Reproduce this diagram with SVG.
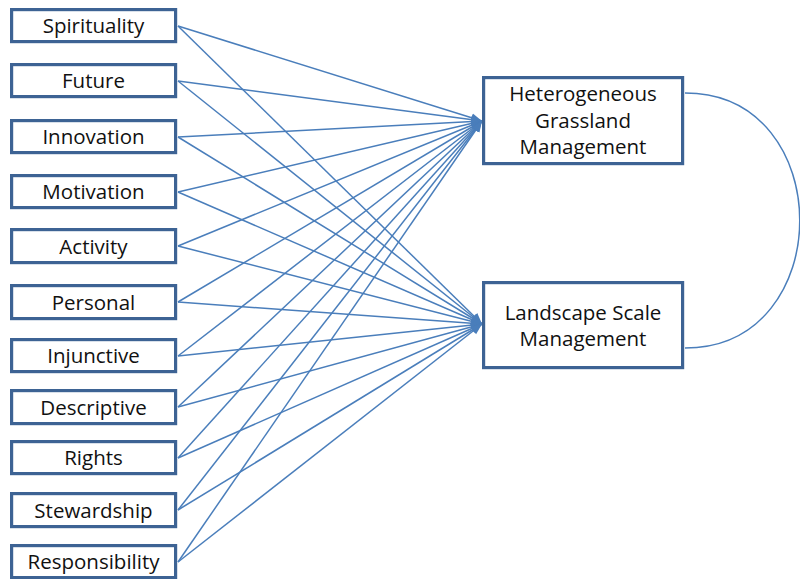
<svg xmlns="http://www.w3.org/2000/svg" width="800" height="579" viewBox="0 0 800 579">
<defs>
<marker id="arr" markerUnits="userSpaceOnUse" markerWidth="12" markerHeight="10" refX="11" refY="4.5" orient="auto" viewBox="0 0 12 9">
<path d="M0,0 L11,4.5 L0,9 Z" fill="#4a7ebb"/>
</marker>
<style>
.box{fill:#fff;stroke:#3d6394;stroke-width:3.2}
.t{font-family:"Open Sans","Liberation Sans",sans-serif;font-size:20.5px;fill:#111;text-anchor:middle}
.c line{stroke:#4a7ebb;stroke-width:1.5;marker-end:url(#arr)}
</style>
</defs>
<rect width="800" height="579" fill="#fff"/>
<g id="connectors" class="c">
<line x1="178" y1="26" x2="482" y2="121"/><line x1="178" y1="26" x2="482" y2="324"/>
<line x1="178" y1="81" x2="482" y2="121"/><line x1="178" y1="81" x2="482" y2="324"/>
<line x1="178" y1="137" x2="482" y2="121"/><line x1="178" y1="137" x2="482" y2="324"/>
<line x1="178" y1="192" x2="482" y2="121"/><line x1="178" y1="192" x2="482" y2="324"/>
<line x1="178" y1="246" x2="482" y2="121"/><line x1="178" y1="246" x2="482" y2="324"/>
<line x1="178" y1="302" x2="482" y2="121"/><line x1="178" y1="302" x2="482" y2="324"/>
<line x1="178" y1="356" x2="482" y2="121"/><line x1="178" y1="356" x2="482" y2="324"/>
<line x1="178" y1="407" x2="482" y2="121"/><line x1="178" y1="407" x2="482" y2="324"/>
<line x1="178" y1="458" x2="482" y2="121"/><line x1="178" y1="458" x2="482" y2="324"/>
<line x1="178" y1="510" x2="482" y2="121"/><line x1="178" y1="510" x2="482" y2="324"/>
<line x1="178" y1="562" x2="482" y2="121"/><line x1="178" y1="562" x2="482" y2="324"/>
<path d="M685,93 C838,93 838,348 685,348" fill="none" stroke="#4a7ebb" stroke-width="1.5"/>
</g>
<g id="spirituality"><rect class="box" x="11.6" y="9.6" width="164" height="32"/><text class="t" x="93.5" y="33">Spirituality</text></g>
<g id="future"><rect class="box" x="11.6" y="64.6" width="164" height="32"/><text class="t" x="93.5" y="88">Future</text></g>
<g id="innovation"><rect class="box" x="11.6" y="120.6" width="164" height="32"/><text class="t" x="93.5" y="144">Innovation</text></g>
<g id="motivation"><rect class="box" x="11.6" y="175.6" width="164" height="32"/><text class="t" x="93.5" y="199">Motivation</text></g>
<g id="activity"><rect class="box" x="11.6" y="229.6" width="164" height="33"/><text class="t" x="93.5" y="253.5">Activity</text></g>
<g id="personal"><rect class="box" x="11.6" y="285.6" width="164" height="33"/><text class="t" x="93.5" y="309.5">Personal</text></g>
<g id="injunctive"><rect class="box" x="11.6" y="339.6" width="164" height="32"/><text class="t" x="93.5" y="363">Injunctive</text></g>
<g id="descriptive"><rect class="box" x="11.6" y="390.6" width="164" height="33"/><text class="t" x="93.5" y="414.5">Descriptive</text></g>
<g id="rights"><rect class="box" x="11.6" y="441.6" width="164" height="32"/><text class="t" x="93.5" y="465">Rights</text></g>
<g id="stewardship"><rect class="box" x="11.6" y="493.6" width="164" height="33"/><text class="t" x="93.5" y="517.5">Stewardship</text></g>
<g id="responsibility"><rect class="box" x="11.6" y="545.6" width="164" height="32"/><text class="t" x="93.5" y="569">Responsibility</text></g>
<g id="heterogeneous"><rect class="box" x="483.6" y="77.6" width="199" height="86"/><text class="t" x="583" y="101">Heterogeneous</text><text class="t" x="583" y="128">Grassland</text><text class="t" x="583" y="154">Management</text></g>
<g id="landscape"><rect class="box" x="483.6" y="282.6" width="199" height="85"/><text class="t" x="583" y="320">Landscape Scale</text><text class="t" x="583" y="346">Management</text></g>
</svg>
